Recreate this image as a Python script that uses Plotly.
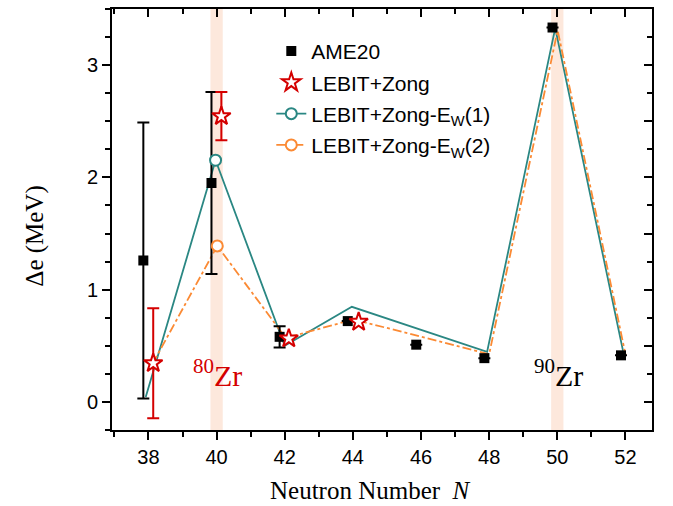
import plotly.graph_objects as go

# ---------------- data ----------------
n_ame = [37.85, 39.85, 41.85, 43.85, 45.86, 47.86, 49.86, 51.87]
de_ame = [1.26, 1.95, 0.58, 0.72, 0.51, 0.39, 3.335, 0.415]
err_ame = [1.23, 0.81, 0.095, None, None, None, None, None]

n_lz = [38.14, 40.14, 42.12, 44.17]
de_lz = [0.345, 2.545, 0.565, 0.713]
err_lz = [0.49, 0.215, None, None]

n_ew1 = [37.92, 39.97, 42.0, 43.97, 47.94, 49.94, 51.93]
de_ew1 = [0.045, 2.153, 0.50, 0.847, 0.446, 3.33, 0.455]

n_ew2 = [38.12, 40.02, 42.03, 44.02, 48.0, 50.01, 52.0]
de_ew2 = [0.34, 1.39, 0.57, 0.735, 0.425, 3.31, 0.425]

marked_index = 1  # the N = 40 point carries the circle marker

band_centers = [40.0, 50.0]
band_labels = ["<sup>80</sup>Zr", "<sup>90</sup>Zr"]
label_x = [40.03, 50.04]
label_y = 0.26

x_ticks = [38, 40, 42, 44, 46, 48, 50, 52]
y_ticks = [0, 1, 2, 3]

x_title = "Neutron Number\u00a0\u00a0<i>N</i>"
y_title = "Δe (MeV)"

# ---------------- styles ----------------
TEAL = "#2a8783"
ORANGE = "#fb8a34"
RED = "#d40000"
BAND = "#fde8dc"
SANS = "Liberation Sans, Arial, sans-serif"
SERIF = "Liberation Serif, Times New Roman, serif"

fig = go.Figure()

# shaded bands
for c in band_centers:
    fig.add_shape(type="rect", xref="x", yref="paper", x0=c - 0.18, x1=c + 0.18,
                  y0=0, y1=1, fillcolor=BAND, line_width=0, layer="below")

# E_W(1) and E_W(2) lines (no legend entries of their own)
fig.add_trace(go.Scatter(x=n_ew1, y=de_ew1, mode="lines", line=dict(color=TEAL, width=1.8),
                         showlegend=False, hoverinfo="skip"))
fig.add_trace(go.Scatter(x=n_ew2, y=de_ew2, mode="lines",
                         line=dict(color=ORANGE, width=1.8, dash="dashdot"),
                         showlegend=False, hoverinfo="skip"))

# AME20
fig.add_trace(go.Scatter(
    x=n_ame, y=de_ame, mode="markers", name="AME20", legendgroup="g1", legendrank=1,
    marker=dict(symbol="square", size=10, color="black"),
    error_y=dict(type="data", array=err_ame, color="black", thickness=2, width=6)))

# markers at N=40 for the E_W curves (with legend entries)
fig.add_trace(go.Scatter(
    x=[n_ew1[marked_index]], y=[de_ew1[marked_index]], mode="lines+markers",
    name="LEBIT+Zong-E<sub>W</sub>(1)", legendgroup="g3", legendrank=3,
    line=dict(color=TEAL, width=1.8),
    marker=dict(symbol="circle", size=11, color="white", line=dict(color=TEAL, width=2))))
fig.add_trace(go.Scatter(
    x=[n_ew2[marked_index]], y=[de_ew2[marked_index]], mode="lines+markers",
    name="LEBIT+Zong-E<sub>W</sub>(2)", legendgroup="g4", legendrank=4,
    line=dict(color=ORANGE, width=1.8, dash="dashdot"),
    marker=dict(symbol="circle", size=11, color="white", line=dict(color=ORANGE, width=2))))

# LEBIT+Zong (drawn on top of the lines)
fig.add_trace(go.Scatter(
    x=n_lz, y=de_lz, mode="markers", name="LEBIT+Zong", legendgroup="g2", legendrank=2,
    marker=dict(symbol="star", size=14, color="white", line=dict(color=RED, width=2)),
    error_y=dict(type="data", array=err_lz, color=RED, thickness=2, width=6)))

# dummy trace for top / right axes
fig.add_trace(go.Scatter(x=[40], y=[1], xaxis="x2", yaxis="y2", mode="markers",
                         marker=dict(opacity=0), showlegend=False, hoverinfo="skip"))

# isotope labels
for xl, txt, col in zip(label_x, band_labels, [RED, "black"]):
    fig.add_annotation(x=xl, y=label_y, text=txt, showarrow=False,
                       font=dict(family=SERIF, size=30, color=col),
                       xanchor="center", yanchor="middle")

# axis titles
fig.add_annotation(xref="paper", yref="paper", x=0.478, y=-0.143, text=x_title,
                   showarrow=False, xanchor="center", yanchor="middle",
                   font=dict(family=SERIF, size=25, color="black"))
fig.add_annotation(xref="paper", yref="paper", x=-0.143, y=0.461, text=y_title,
                   showarrow=False, xanchor="center", yanchor="middle", textangle=-90,
                   font=dict(family=SERIF, size=25, color="black"))

XR = [36.93, 52.78]
YR = [-0.25, 3.5]

fig.update_layout(
    width=673, height=506,
    margin=dict(l=112, r=21, t=9, b=76),
    paper_bgcolor="white", plot_bgcolor="white",
    showlegend=True,
    legend=dict(x=0.295, y=0.948, xanchor="left", yanchor="top",
                font=dict(family=SANS, size=21, color="black"),
                bgcolor="rgba(0,0,0,0)", traceorder="grouped", tracegroupgap=1),
    xaxis=dict(range=XR, tickvals=x_ticks, ticks="outside", ticklen=8, tickwidth=2,
               tickcolor="black", showline=True, linewidth=2, linecolor="black",
               showgrid=False, zeroline=False,
               tickfont=dict(family=SANS, size=20, color="black"),
               minor=dict(dtick=1, tick0=37, ticks="outside", ticklen=5, tickwidth=2,
                          tickcolor="black", showgrid=False)),
    yaxis=dict(range=YR, tickvals=y_ticks, ticks="outside", ticklen=8, tickwidth=2,
               tickcolor="black", showline=True, linewidth=2, linecolor="black",
               showgrid=False, zeroline=False,
               tickfont=dict(family=SANS, size=20, color="black"),
               minor=dict(dtick=0.25, tick0=0, ticks="outside", ticklen=5, tickwidth=2,
                          tickcolor="black", showgrid=False)),
    xaxis2=dict(overlaying="x", side="top", range=XR, tickvals=x_ticks, ticks="inside",
                ticklen=8, tickwidth=2, tickcolor="black", showticklabels=False,
                showline=True, linewidth=2, linecolor="black", showgrid=False, zeroline=False,
                minor=dict(dtick=1, tick0=37, ticks="inside", ticklen=5, tickwidth=2,
                           tickcolor="black", showgrid=False)),
    yaxis2=dict(overlaying="y", side="right", range=YR, dtick=0.5, tick0=0, ticks="inside",
                ticklen=8, tickwidth=2, tickcolor="black", showticklabels=False,
                showline=True, linewidth=2, linecolor="black", showgrid=False, zeroline=False,
                minor=dict(dtick=0.25, tick0=0, ticks="inside", ticklen=5, tickwidth=2,
                           tickcolor="black", showgrid=False)),
)

fig.write_html("out.html", config={"displayModeBar": False},
               post_script="document.body.style.margin='0px';")
